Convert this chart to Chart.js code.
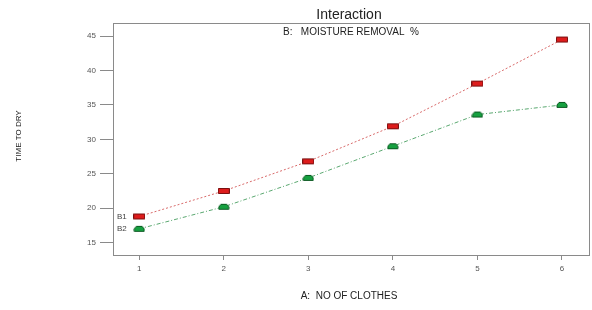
<!DOCTYPE html>
<html>
<head>
<meta charset="utf-8">
<script src="https://cdn.jsdelivr.net/npm/chart.js@4"></script>
<style>
  html, body { margin: 0; padding: 0; background: #fff; }
  #wrap { width: 592px; height: 310px; }
</style>
</head>
<body>
<div id="wrap"><canvas id="chart" width="592" height="310"></canvas></div>
<script>
/* ── Datos ── */
var clothes = [1, 2, 3, 4, 5, 6];
var seriesB1 = [18.8, 22.5, 26.8, 31.9, 38.1, 44.5];
var seriesB2 = [17.0, 20.2, 24.4, 29.0, 33.6, 35.0];
var seriesNames = ['B1', 'B2'];
var yTicks = [15, 20, 25, 30, 35, 40, 45];
var xTicks = [1, 2, 3, 4, 5, 6];

/* ── Marcadores ── */
function makeMarker(fill, stroke, rounded) {
  var c = document.createElement('canvas');
  c.width = 12; c.height = 8;
  var g = c.getContext('2d');
  g.fillStyle = fill;
  g.strokeStyle = stroke;
  g.lineWidth = 1;
  g.beginPath();
  if (rounded) {
    g.moveTo(3, 1.5); g.lineTo(9, 1.5); g.lineTo(11, 4); g.lineTo(11, 6.5);
    g.lineTo(1, 6.5); g.lineTo(1, 4); g.closePath();
  } else {
    g.rect(0.5, 1.5, 11, 5);
  }
  g.fill(); g.stroke();
  return c;
}
var redMarker = makeMarker('#dd1c1c', '#7a1010', false);
var greenMarker = makeMarker('#16a040', '#0b5a22', true);

function pts(arr) {
  return clothes.map(function(x, i) { return { x: x, y: arr[i] }; });
}

/* ── Textos y marco ── */
var decorPlugin = {
  id: 'decor',
  afterDraw: function(chart) {
    var ctx = chart.ctx, a = chart.chartArea;
    ctx.save();
    ctx.strokeStyle = '#8a8a8a';
    ctx.lineWidth = 1;
    ctx.strokeRect(a.left + 0.5, a.top + 0.5, a.right - a.left, a.bottom - a.top);

    ctx.fillStyle = '#222';
    ctx.textAlign = 'center';
    ctx.textBaseline = 'middle';
    ctx.font = '14px "Liberation Sans", Arial, sans-serif';
    ctx.fillText('Interaction', 349, 15);
    ctx.font = '10px "Liberation Sans", Arial, sans-serif';
    ctx.fillText('B:   MOISTURE REMOVAL  %', 351, 32);
    ctx.fillText('A:  NO OF CLOTHES', 349, 296);

    ctx.save();
    ctx.translate(19, 136);
    ctx.rotate(-Math.PI / 2);
    ctx.font = '8px "Liberation Sans", Arial, sans-serif';
    ctx.fillText('TIME TO DRY', 0, 0);
    ctx.restore();

    /* Etiquetas B1 / B2 junto al primer punto */
    ctx.fillStyle = '#444';
    ctx.textAlign = 'left';
    ctx.font = '8px "Liberation Sans", Arial, sans-serif';
    chart.data.datasets.forEach(function(ds, i) {
      var p = chart.getDatasetMeta(i).data[0];
      ctx.fillText(seriesNames[i], 117, p.y);
    });
    ctx.restore();
  }
};

new Chart(document.getElementById('chart').getContext('2d'), {
  type: 'line',
  data: {
    datasets: [{
      label: seriesNames[0],
      data: pts(seriesB1),
      borderColor: '#d86a6a',
      borderWidth: 1,
      borderDash: [2, 2],
      pointStyle: redMarker,
      pointRadius: 6,
      tension: 0
    }, {
      label: seriesNames[1],
      data: pts(seriesB2),
      borderColor: '#5aa870',
      borderWidth: 1,
      borderDash: [4, 2, 1, 2],
      pointStyle: greenMarker,
      pointRadius: 6,
      tension: 0
    }]
  },
  options: {
    responsive: false,
    animation: false,
    layout: { autoPadding: false, padding: { top: 23, right: 3, left: 0, bottom: 0 } },
    plugins: { legend: { display: false }, title: { display: false }, tooltip: { enabled: false } },
    scales: {
      x: {
        type: 'linear',
        min: 0.69, max: 6.32,
        afterBuildTicks: function(s) { s.ticks = xTicks.map(function(v) { return { value: v }; }); },
        afterFit: function(s) { s.height = 55; },
        grid: { display: true, drawOnChartArea: false, tickLength: 5, color: '#8a8a8a' },
        border: { display: false },
        ticks: {
          padding: 4,
          maxRotation: 0,
          color: '#555',
          font: { family: '"Liberation Sans", Arial, sans-serif', size: 8 }
        }
      },
      y: {
        min: 13.2, max: 46.9,
        afterBuildTicks: function(s) { s.ticks = yTicks.map(function(v) { return { value: v }; }); },
        afterFit: function(s) { s.width = 113; },
        grid: { display: true, drawOnChartArea: false, tickLength: 13, color: '#8a8a8a' },
        border: { display: false },
        ticks: {
          padding: 4,
          color: '#555',
          font: { family: '"Liberation Sans", Arial, sans-serif', size: 8 }
        }
      }
    }
  },
  plugins: [decorPlugin]
});
</script>
</body>
</html>
